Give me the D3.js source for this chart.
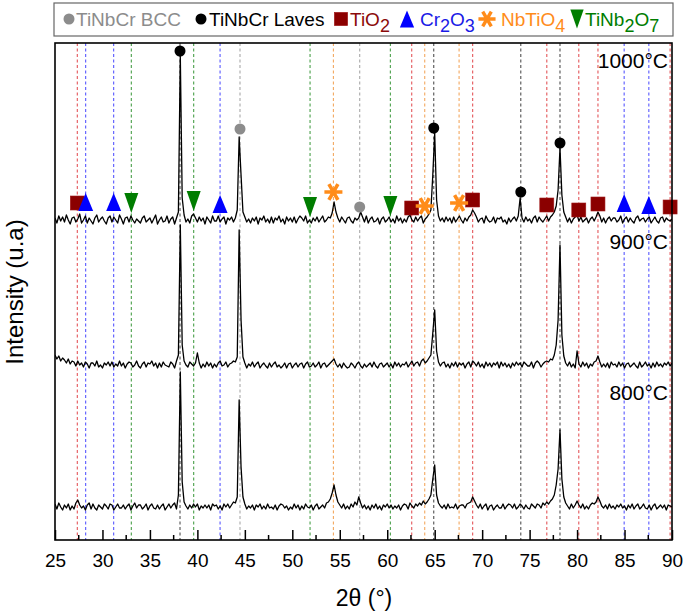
<!DOCTYPE html>
<html><head><meta charset="utf-8">
<script src="https://cdn.jsdelivr.net/npm/d3@7/dist/d3.min.js"></script>
<style>body{margin:0;background:#fff}svg{display:block;font-family:"Liberation Sans",Arial,sans-serif}</style>
</head><body><svg id="c" width="685" height="614"></svg>
<script>
// ---------------- DATA ----------------
const temperatures = ["800°C", "900°C", "1000°C"];
const xTicks = [25, 30, 35, 40, 45, 50, 55, 60, 65, 70, 75, 80, 85, 90];
const xMinorTicks = [27.5, 32.5, 37.5, 42.5, 47.5, 52.5, 57.5, 62.5, 67.5, 72.5, 77.5, 82.5, 87.5];
const angleStart = 25, angleStep = 0.2; // each row = one degree, 5 samples (x.0, x.2, x.4, x.6, x.8)

// intensity above each pattern's own baseline (a.u.)
const int1000 = [
[2,-3,4,-1,3],[-2,5,0,-4,2],[3,-2,1,6,-3],[0,4,-3,2,-1],[-4,2,5,-2,1],
[3,-1,-4,2,4],[-2,3,0,-3,5],[1,-4,2,3,-2],[4,0,-3,1,-1],[-3,2,4,-2,0],
[2,-3,1,5,-4],[0,3,-2,-1,4],[-3,1,3,-4,2],[8,165,22,5,-2],[1,-3,4,6,2],
[-2,3,-1,2,-4],[3,0,-3,4,-1],[-1,4,-2,1,3],[-4,2,0,3,-2],[2,10,83,45,8],
[3,-2,1,-3,2],[-1,3,-4,2,0],[4,-2,1,-3,3],[-3,2,0,4,-2],[1,-4,3,-1,2],
[-2,3,-3,1,4],[2,-1,4,-3,0],[-3,2,-1,3,-2],[1,4,-2,0,3],[2,7,18,8,2],
[-2,3,0,-3,2],[3,-1,-3,2,0],[2,8,3,-2,4],[-3,1,3,-2,-1],[2,-4,1,3,-2],
[0,3,-2,1,-3],[4,-1,2,-3,1],[-2,3,5,0,-2],[3,-1,2,4,-3],[1,3,6,10,45],
[87,20,4,-1,2],[-2,3,-1,2,-3],[3,-2,1,4,0],[-3,2,-1,3,5],[10,7,3,-2,1],
[2,-3,4,0,-2],[-1,3,-3,2,1],[3,-2,0,-4,2],[-2,1,3,-1,4],[22,2,-2,3,-1],
[1,-3,2,4,-2],[3,0,-2,1,4],[-1,3,5,8,14],[30,72,25,8,3],[-2,2,-3,1,3],
[5,-1,3,-2,0],[2,-3,1,3,-1],[3,8,4,-2,2],[-3,1,3,-1,2],[2,-2,0,4,-3],
[1,3,-2,2,-1],[-3,2,4,-1,1],[2,-2,1,3,-3],[0,3,-1,-3,2],[3,-2,2,0,-1],[1]
];
const int900 = [
[10,6,9,4,7],[5,2,6,1,4],[3,-1,4,0,2],[-2,3,1,-3,2],[2,-1,4,-2,0],
[-3,2,0,3,-1],[3,-2,1,-1,4],[-1,2,-3,1,3],[2,-2,0,4,-1],[-3,1,3,-2,2],
[1,4,-1,2,-3],[2,-2,3,0,-1],[-2,3,1,-3,4],[10,140,20,4,0],[-2,3,1,-1,2],
[12,2,-3,1,-2],[3,-1,2,-3,1],[-2,2,4,-1,0],[3,-2,1,2,4],[3,8,135,45,8],
[2,-3,1,-1,3],[-2,1,3,-3,0],[2,-1,-3,2,-2],[1,3,-2,0,-3],[-1,2,-3,1,2],
[-3,0,2,-2,1],[2,-3,1,3,-2],[-1,2,-2,0,3],[-3,1,2,-2,0],[2,4,6,1,-2],
[1,-3,2,-1,-3],[-2,2,0,-3,1],[3,-1,-3,1,-2],[0,2,-2,3,-1],[-3,1,2,-2,0],
[2,-2,1,-3,3],[-1,2,-2,1,0],[3,-2,1,4,-1],[2,3,-1,4,6],[2,4,7,10,32],
[55,14,3,-1,2],[3,-2,1,-3,2],[-1,3,-2,2,0],[2,-3,1,3,-2],[4,2,-1,3,-2],
[1,-3,3,-1,2],[-2,2,0,3,-3],[3,-1,2,-2,1],[-3,2,-1,3,0],[2,-2,3,1,-1],
[-1,3,-3,2,4],[2,-2,1,3,4],[3,6,5,10,20],[45,120,30,9,2],[-1,3,-2,1,-3],
[14,1,-2,3,-1],[2,-3,1,-1,3],[4,9,3,-2,1],[-2,2,-3,3,0],[1,-2,3,-1,2],
[-3,1,2,-2,0],[2,-1,-3,3,-2],[0,3,-1,1,-3],[2,-2,3,-1,1],[-2,2,0,3,-1],[2]
];
const int800 = [
[3,-2,4,0,-3],[2,-1,3,-3,1],[-2,4,7,2,-1],[1,-3,2,4,-2],[3,-1,-3,2,0],
[-2,3,1,-2,3],[2,-3,0,3,-1],[-1,2,-2,1,3],[-3,1,4,-1,2],[2,-2,0,3,-3],
[1,3,-1,-2,2],[-2,1,3,-3,0],[3,-1,2,4,-2],[12,135,25,5,1],[-2,2,-1,3,0],
[3,-3,1,-1,2],[-1,2,-3,3,1],[2,-2,1,-3,3],[0,3,-1,2,5],[4,10,107,40,10],
[3,-2,1,-1,2],[-3,2,0,3,-2],[1,-2,3,-1,0],[-2,2,-3,1,3],[2,-1,1,-3,0],
[-2,3,-1,2,-3],[1,-2,3,0,-1],[2,-3,1,3,-2],[0,2,-1,4,5],[8,14,22,12,5],
[2,-1,3,-2,1],[-2,3,0,5,2],[10,4,-1,2,-2],[1,-3,2,-1,3],[-2,1,-3,2,0],
[3,-1,2,-2,1],[-1,2,-3,1,3],[2,-2,4,1,-1],[3,1,4,2,6],[3,5,8,12,28],
[42,12,4,1,-1],[2,-2,3,-1,0],[-1,3,-2,1,2],[2,-1,3,4,5],[10,6,2,-1,3],
[-2,1,3,-3,1],[2,-3,0,2,-1],[-1,3,-2,1,3],[2,-1,3,-2,0],[3,1,-2,2,-1],
[-2,3,1,-1,3],[2,-1,4,2,5],[3,6,8,12,22],[38,77,28,10,4],[1,-2,3,-1,2],
[6,2,-1,3,-2],[1,-2,2,4,3],[5,10,6,1,-1],[2,-2,3,-1,1],[-2,2,0,3,-1],
[1,-3,2,-1,3],[-2,1,3,-2,0],[3,-1,-2,2,-3],[1,3,-2,0,2],[-1,2,-3,2,1],[0]
];
const patternBaselines = [33, 175, 320]; // 800, 900, 1000 stacking offsets (a.u.)

// phases
const phaseNames = ["TiNbCr BCC", "TiNbCr Laves", "TiO2", "Cr2O3", "NbTiO4", "TiNb2O7"];
// reference (dashed) line positions, 2θ
const refBCC = [44.49, 57.1];
const refLaves = [38.17, 64.9, 74.07, 78.2];
const refTiO2 = [27.35, 62.58, 69.0, 76.81, 80.18, 82.2, 89.8];
const refCr2O3 = [28.23, 31.18, 42.39, 84.96, 87.56];
const refNbTiO4 = [54.33, 63.95, 67.57];
const refTiNb2O7 = [33.04, 39.61, 51.87, 60.33];
// marker positions [2θ, level in a.u.]
const mkBCC = [[44.49, 411], [57.1, 333]];
const mkLaves = [[38.17, 489], [64.9, 412], [74.07, 348], [78.2, 397]];
const mkTiO2 = [[27.35, 337], [62.58, 332], [69.0, 340], [76.81, 335], [80.18, 330], [82.2, 336], [89.8, 333]];
const mkCr2O3 = [[28.23, 338], [31.18, 338], [42.39, 336], [84.96, 337], [87.56, 335]];
const mkNbTiO4 = [[54.33, 348], [63.95, 334], [67.57, 337]];
const mkTiNb2O7 = [[33.04, 337], [39.61, 339], [51.87, 333], [60.33, 334]];

// ---------------- STYLE / LAYOUT ----------------
const M = {left: 55, right: 672, top: 43, bottom: 540};
const svg = d3.select("#c");
const x = d3.scaleLinear().domain([25, 90]).range([M.left, M.right]);
const y = d3.scaleLinear().domain([0, 497]).range([M.bottom, M.top]);

const phaseStyle = {
  "TiNbCr BCC":   {mark: "#8c8c8c", line: "#9a9a9a", text: "#8c8c8c", sym: "circle"},
  "TiNbCr Laves": {mark: "#000000", line: "#333333", text: "#000000", sym: "circle"},
  "TiO2":         {mark: "#8b0000", line: "#e0393e", text: "#8b0a0a", sym: "square"},
  "Cr2O3":        {mark: "#0000ff", line: "#3c3cff", text: "#1a1ae6", sym: "up"},
  "NbTiO4":       {mark: "#ff8c1a", line: "#f29a45", text: "#ff8c1a", sym: "star"},
  "TiNb2O7":      {mark: "#007d00", line: "#2a8f2a", text: "#007d00", sym: "down"}
};
const refLists = [refBCC, refLaves, refTiO2, refCr2O3, refNbTiO4, refTiNb2O7];
const mkLists = [mkBCC, mkLaves, mkTiO2, mkCr2O3, mkNbTiO4, mkTiNb2O7];

svg.append("defs").append("clipPath").attr("id", "plotclip")
  .append("rect").attr("x", M.left).attr("y", M.top)
  .attr("width", M.right - M.left).attr("height", M.bottom - M.top);

const plot = svg.append("g").attr("clip-path", "url(#plotclip)");

// dashed reference lines
phaseNames.forEach((p, k) => {
  plot.selectAll(null).data(refLists[k]).join("line")
    .attr("x1", d => x(d)).attr("x2", d => x(d))
    .attr("y1", M.top).attr("y2", M.bottom)
    .attr("stroke", phaseStyle[p].line).attr("stroke-width", 1.1)
    .attr("stroke-dasharray", "3,2.5").attr("opacity", 0.85);
});

// patterns
const patterns = [int800, int900, int1000];
const line = d3.line().x(d => x(d.t)).y(d => y(d.v));
patterns.forEach((rows, k) => {
  const vals = rows.flat();
  const pts = vals.map((v, i) => ({t: angleStart + i * angleStep, v: v + patternBaselines[k]}));
  plot.append("path").datum(pts).attr("d", line)
    .attr("fill", "none").attr("stroke", "#000").attr("stroke-width", 1.3)
    .attr("stroke-linejoin", "round");
});

// marker drawing
function drawSymbol(g, sym, color, cx, cy, scale) {
  const s = scale || 1;
  if (sym === "circle") {
    g.append("circle").attr("cx", cx).attr("cy", cy).attr("r", 5.5 * s).attr("fill", color);
  } else if (sym === "square") {
    const a = 14 * s;
    g.append("rect").attr("x", cx - a / 2).attr("y", cy - a / 2).attr("width", a).attr("height", a)
      .attr("fill", color).attr("stroke", "#a01818").attr("stroke-width", 0.6);
  } else if (sym === "up") {
    const w = 15 * s, h = 18 * s;
    g.append("path").attr("d", `M${cx},${cy - h / 2}L${cx + w / 2},${cy + h / 2}L${cx - w / 2},${cy + h / 2}Z`).attr("fill", color);
  } else if (sym === "down") {
    const w = 14 * s, h = 20 * s;
    g.append("path").attr("d", `M${cx - w / 2},${cy - h / 2}L${cx + w / 2},${cy - h / 2}L${cx},${cy + h / 2}Z`).attr("fill", color);
  } else if (sym === "star") {
    g.append("path").attr("transform", `translate(${cx},${cy}) rotate(90)`)
      .attr("d", d3.symbol(d3.symbolAsterisk, 229 * s * s)())
      .attr("fill", "none").attr("stroke", color).attr("stroke-width", 3.6 * s).attr("stroke-linecap", "butt");
  }
}
const mg = svg.append("g");
phaseNames.forEach((p, k) => {
  mkLists[k].forEach(d => drawSymbol(mg, phaseStyle[p].sym, phaseStyle[p].mark, x(d[0]), y(d[1])));
});

// frame
svg.append("rect").attr("x", M.left).attr("y", M.top)
  .attr("width", M.right - M.left).attr("height", M.bottom - M.top)
  .attr("fill", "none").attr("stroke", "#000").attr("stroke-width", 1.6);

// x axis (ticks inward)
const ax = svg.append("g").attr("transform", `translate(0,${M.bottom})`)
  .call(d3.axisBottom(x).tickValues(xTicks).tickSizeInner(-10).tickSizeOuter(0).tickPadding(14).tickFormat(d3.format("d")));
ax.select(".domain").remove();
ax.selectAll(".tick line").attr("stroke-width", 1.5);
ax.selectAll("text").attr("font-size", 19).attr("fill", "#000").attr("font-family", '"Liberation Sans",Arial,sans-serif');
svg.append("g").selectAll("line").data(xMinorTicks).join("line")
  .attr("x1", d => x(d)).attr("x2", d => x(d)).attr("y1", M.bottom).attr("y2", M.bottom - 5)
  .attr("stroke", "#000").attr("stroke-width", 1.5);

// axis labels
svg.append("text").attr("x", 364).attr("y", 606).attr("text-anchor", "middle").attr("font-size", 23).text("2θ (°)");
svg.append("text").attr("transform", "translate(23,292) rotate(-90)").attr("text-anchor", "middle")
  .attr("font-size", 24).text("Intensity (u.a)");

// temperature labels
const tempLabelY = [400, 249, 68];
temperatures.forEach((t, k) => {
  svg.append("text").attr("x", 668).attr("y", tempLabelY[k]).attr("text-anchor", "end")
    .attr("font-size", 21).attr("fill", "#000").text(t);
});

// legend
svg.append("rect").attr("x", 54).attr("y", 3).attr("width", 619).attr("height", 33)
  .attr("fill", "#fff").attr("stroke", "#666").attr("stroke-width", 1.2);
const legendParts = [
  [["TiNbCr BCC", false]],
  [["TiNbCr Laves", false]],
  [["TiO", false], ["2", true]],
  [["Cr", false], ["2", true], ["O", false], ["3", true]],
  [["NbTiO", false], ["4", true]],
  [["TiNb", false], ["2", true], ["O", false], ["7", true]]
];
const legSymX = [69, 201, 341, 407, 487, 577];
const legTextX = [76, 209, 350, 420, 501, 585];
const lg = svg.append("g");
phaseNames.forEach((p, k) => {
  drawSymbol(lg, phaseStyle[p].sym, phaseStyle[p].mark, legSymX[k], 19, k < 2 ? 1 : 0.95);
  const t = lg.append("text").attr("x", legTextX[k]).attr("y", 26).attr("font-size", 19)
    .attr("fill", phaseStyle[p].text).style("white-space", "pre");
  let shifted = false;
  legendParts[k].forEach(([s, sub]) => {
    const ts = t.append("tspan").text(s);
    if (sub && !shifted) { ts.attr("dy", 6).attr("font-size", 18); shifted = true; }
    else if (!sub && shifted) { ts.attr("dy", -6); shifted = false; }
  });
});
</script></body></html>
